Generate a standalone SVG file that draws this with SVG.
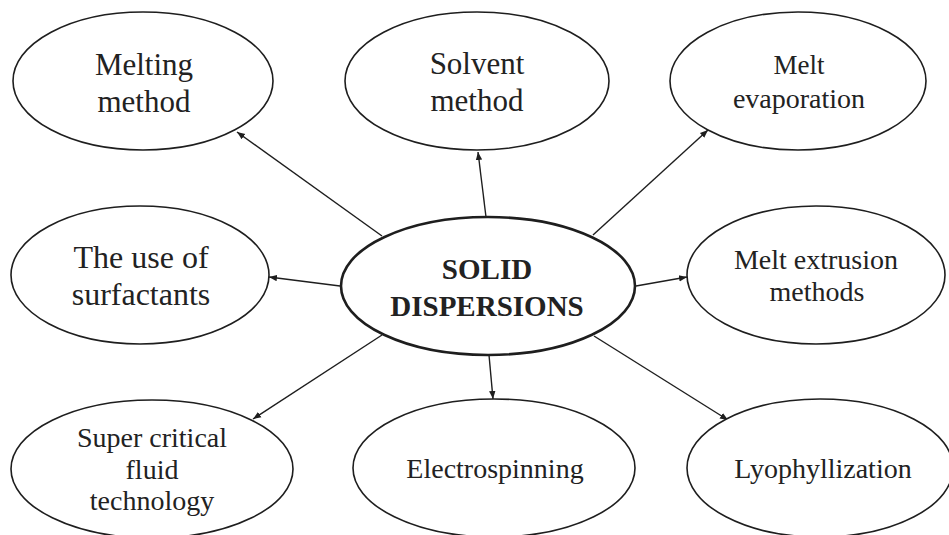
<svg xmlns="http://www.w3.org/2000/svg" width="949" height="535" viewBox="0 0 949 535">
<defs>
<style>
.node ellipse{fill:#fff;stroke:#1e1e1e;stroke-width:1.6}
#center ellipse{stroke-width:2.6}
text{font-family:"Liberation Serif","Times New Roman",serif;fill:#222;text-anchor:middle}
.conn line{stroke:#1e1e1e;stroke-width:1.4;marker-end:url(#ah)}
</style>
<marker id="ah" viewBox="0 0 10 10" refX="10" refY="5" markerWidth="8" markerHeight="8" markerUnits="userSpaceOnUse" orient="auto">
<path d="M0,1 L10,5 L0,9 z" fill="#1e1e1e"/>
</marker>
</defs>
<rect width="949" height="535" fill="#fff"/>
<g class="conn" id="connectors">
<line x1="382" y1="236" x2="237" y2="132"/>
<line x1="486" y1="217" x2="478" y2="152"/>
<line x1="593" y1="235" x2="708" y2="130"/>
<line x1="340" y1="286" x2="269" y2="277"/>
<line x1="636" y1="286" x2="687" y2="277"/>
<line x1="382" y1="335" x2="253" y2="419"/>
<line x1="489" y1="355" x2="493" y2="399"/>
<line x1="594" y1="336" x2="728" y2="420"/>
</g>
<g class="node" id="melting">
<ellipse cx="143" cy="81" rx="130" ry="69"/>
<text x="144" y="75" font-size="31">Melting</text>
<text x="144" y="112" font-size="31">method</text>
</g>
<g class="node" id="solvent">
<ellipse cx="477" cy="81" rx="132" ry="69"/>
<text x="477" y="74" font-size="31">Solvent</text>
<text x="477" y="111" font-size="31">method</text>
</g>
<g class="node" id="evaporation">
<ellipse cx="798" cy="81" rx="128" ry="69"/>
<text x="799" y="74" font-size="27">Melt</text>
<text x="799" y="108" font-size="28">evaporation</text>
</g>
<g class="node" id="surfactants">
<ellipse cx="140" cy="275" rx="129" ry="69"/>
<text x="141" y="268" font-size="32">The use of</text>
<text x="141" y="305" font-size="32">surfactants</text>
</g>
<g class="node" id="center">
<ellipse cx="488" cy="286" rx="147" ry="69"/>
<text x="487" y="279" font-size="29" font-weight="bold">SOLID</text>
<text x="487" y="316" font-size="29" font-weight="bold">DISPERSIONS</text>
</g>
<g class="node" id="extrusion">
<ellipse cx="816" cy="275" rx="129" ry="69"/>
<text x="816" y="269" font-size="28">Melt extrusion</text>
<text x="817" y="301" font-size="28">methods</text>
</g>
<g class="node" id="supercritical">
<ellipse cx="152" cy="469" rx="141" ry="69"/>
<text x="152" y="447" font-size="28">Super critical</text>
<text x="152" y="479" font-size="28">fluid</text>
<text x="152" y="510" font-size="28">technology</text>
</g>
<g class="node" id="electrospinning">
<ellipse cx="494" cy="468" rx="141" ry="69"/>
<text x="495" y="478" font-size="28">Electrospinning</text>
</g>
<g class="node" id="lyophyllization">
<ellipse cx="820" cy="468" rx="133" ry="69"/>
<text x="823" y="478" font-size="28">Lyophyllization</text>
</g>
</svg>
